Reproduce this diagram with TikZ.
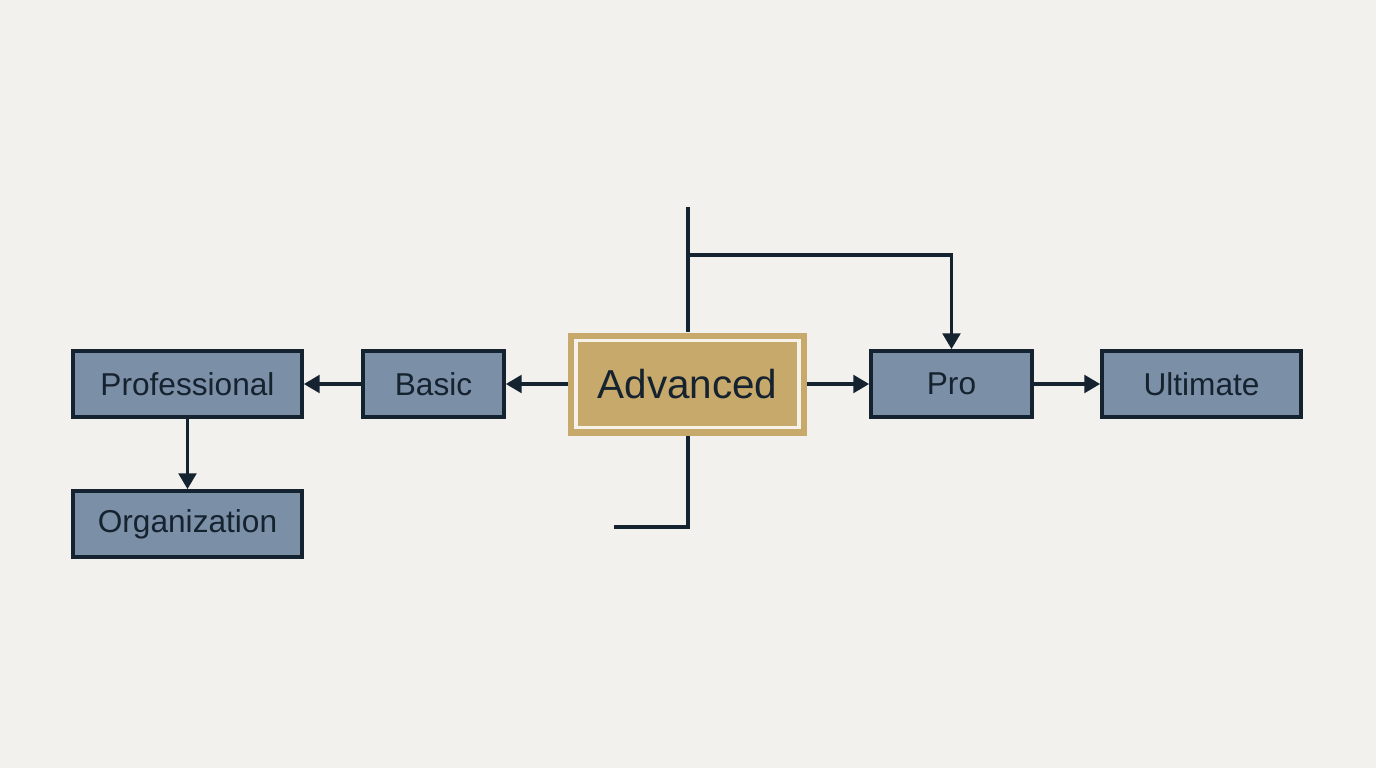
\documentclass[tikz,border=0pt]{standalone}
\usepackage{fontspec}
\setmainfont{Liberation Sans}
\usetikzlibrary{arrows.meta}
\definecolor{bg}{HTML}{F2F1ED}
\definecolor{boxfill}{HTML}{7B8FA7}
\definecolor{ink}{HTML}{15222F}
\definecolor{tan}{HTML}{C7A96B}
\begin{document}
\begin{tikzpicture}[x=0.02cm,y=-0.02cm,
  tier/.style={draw=ink,fill=boxfill,line width=2.1pt,minimum height=66*0.02cm,inner sep=0pt,font=\fontsize{18}{20}\selectfont,text=ink},
  conn/.style={draw=ink,line width=2pt},
  arr/.style={conn,-{Triangle[length=9pt,width=10pt]}}]
\fill[bg] (0,0) rectangle (1376,768);
\useasboundingbox (0,0) rectangle (1376,768);
\node[tier,minimum width=229*0.02cm] (prof) at (187.5,384) {Professional};
\node[tier,minimum width=229*0.02cm] (org) at (187.5,524) {Organization};
\node[tier,minimum width=141*0.02cm] (basic) at (433.5,384) {Basic};
\node[tier,minimum width=161*0.02cm] (pro) at (951.5,384) {Pro};
\node[tier,minimum width=199*0.02cm] (ult) at (1201.5,384) {Ultimate};
\node[fill=tan,minimum width=239*0.02cm,minimum height=103*0.02cm,inner sep=0pt] (adv) at (687.5,384) {};
\draw[white!85!tan,line width=2pt] ([xshift=8.5*0.02cm,yshift=-8.5*0.02cm]adv.north west) rectangle ([xshift=-8.5*0.02cm,yshift=8.5*0.02cm]adv.south east);
\node[font=\fontsize{23}{26}\selectfont,text=ink] at (adv.center) {Advanced};
\coordinate (top) at (688,207);
\coordinate (bend) at (688,255);
\coordinate (bot) at (688,527);
\coordinate (botend) at (614,527);
\draw[conn] (adv.north -| top) -- (top);
\draw[arr] (bend) -| (pro.north);
\draw[conn] (adv.south -| bot) -- (bot) -- (botend);
\draw[arr] (adv.west) -- (basic.east);
\draw[arr] (basic.west) -- (prof.east);
\draw[arr] (prof.south) -- (org.north);
\draw[arr] (adv.east) -- (pro.west);
\draw[arr] (pro.east) -- (ult.west);
\end{tikzpicture}
\end{document}
